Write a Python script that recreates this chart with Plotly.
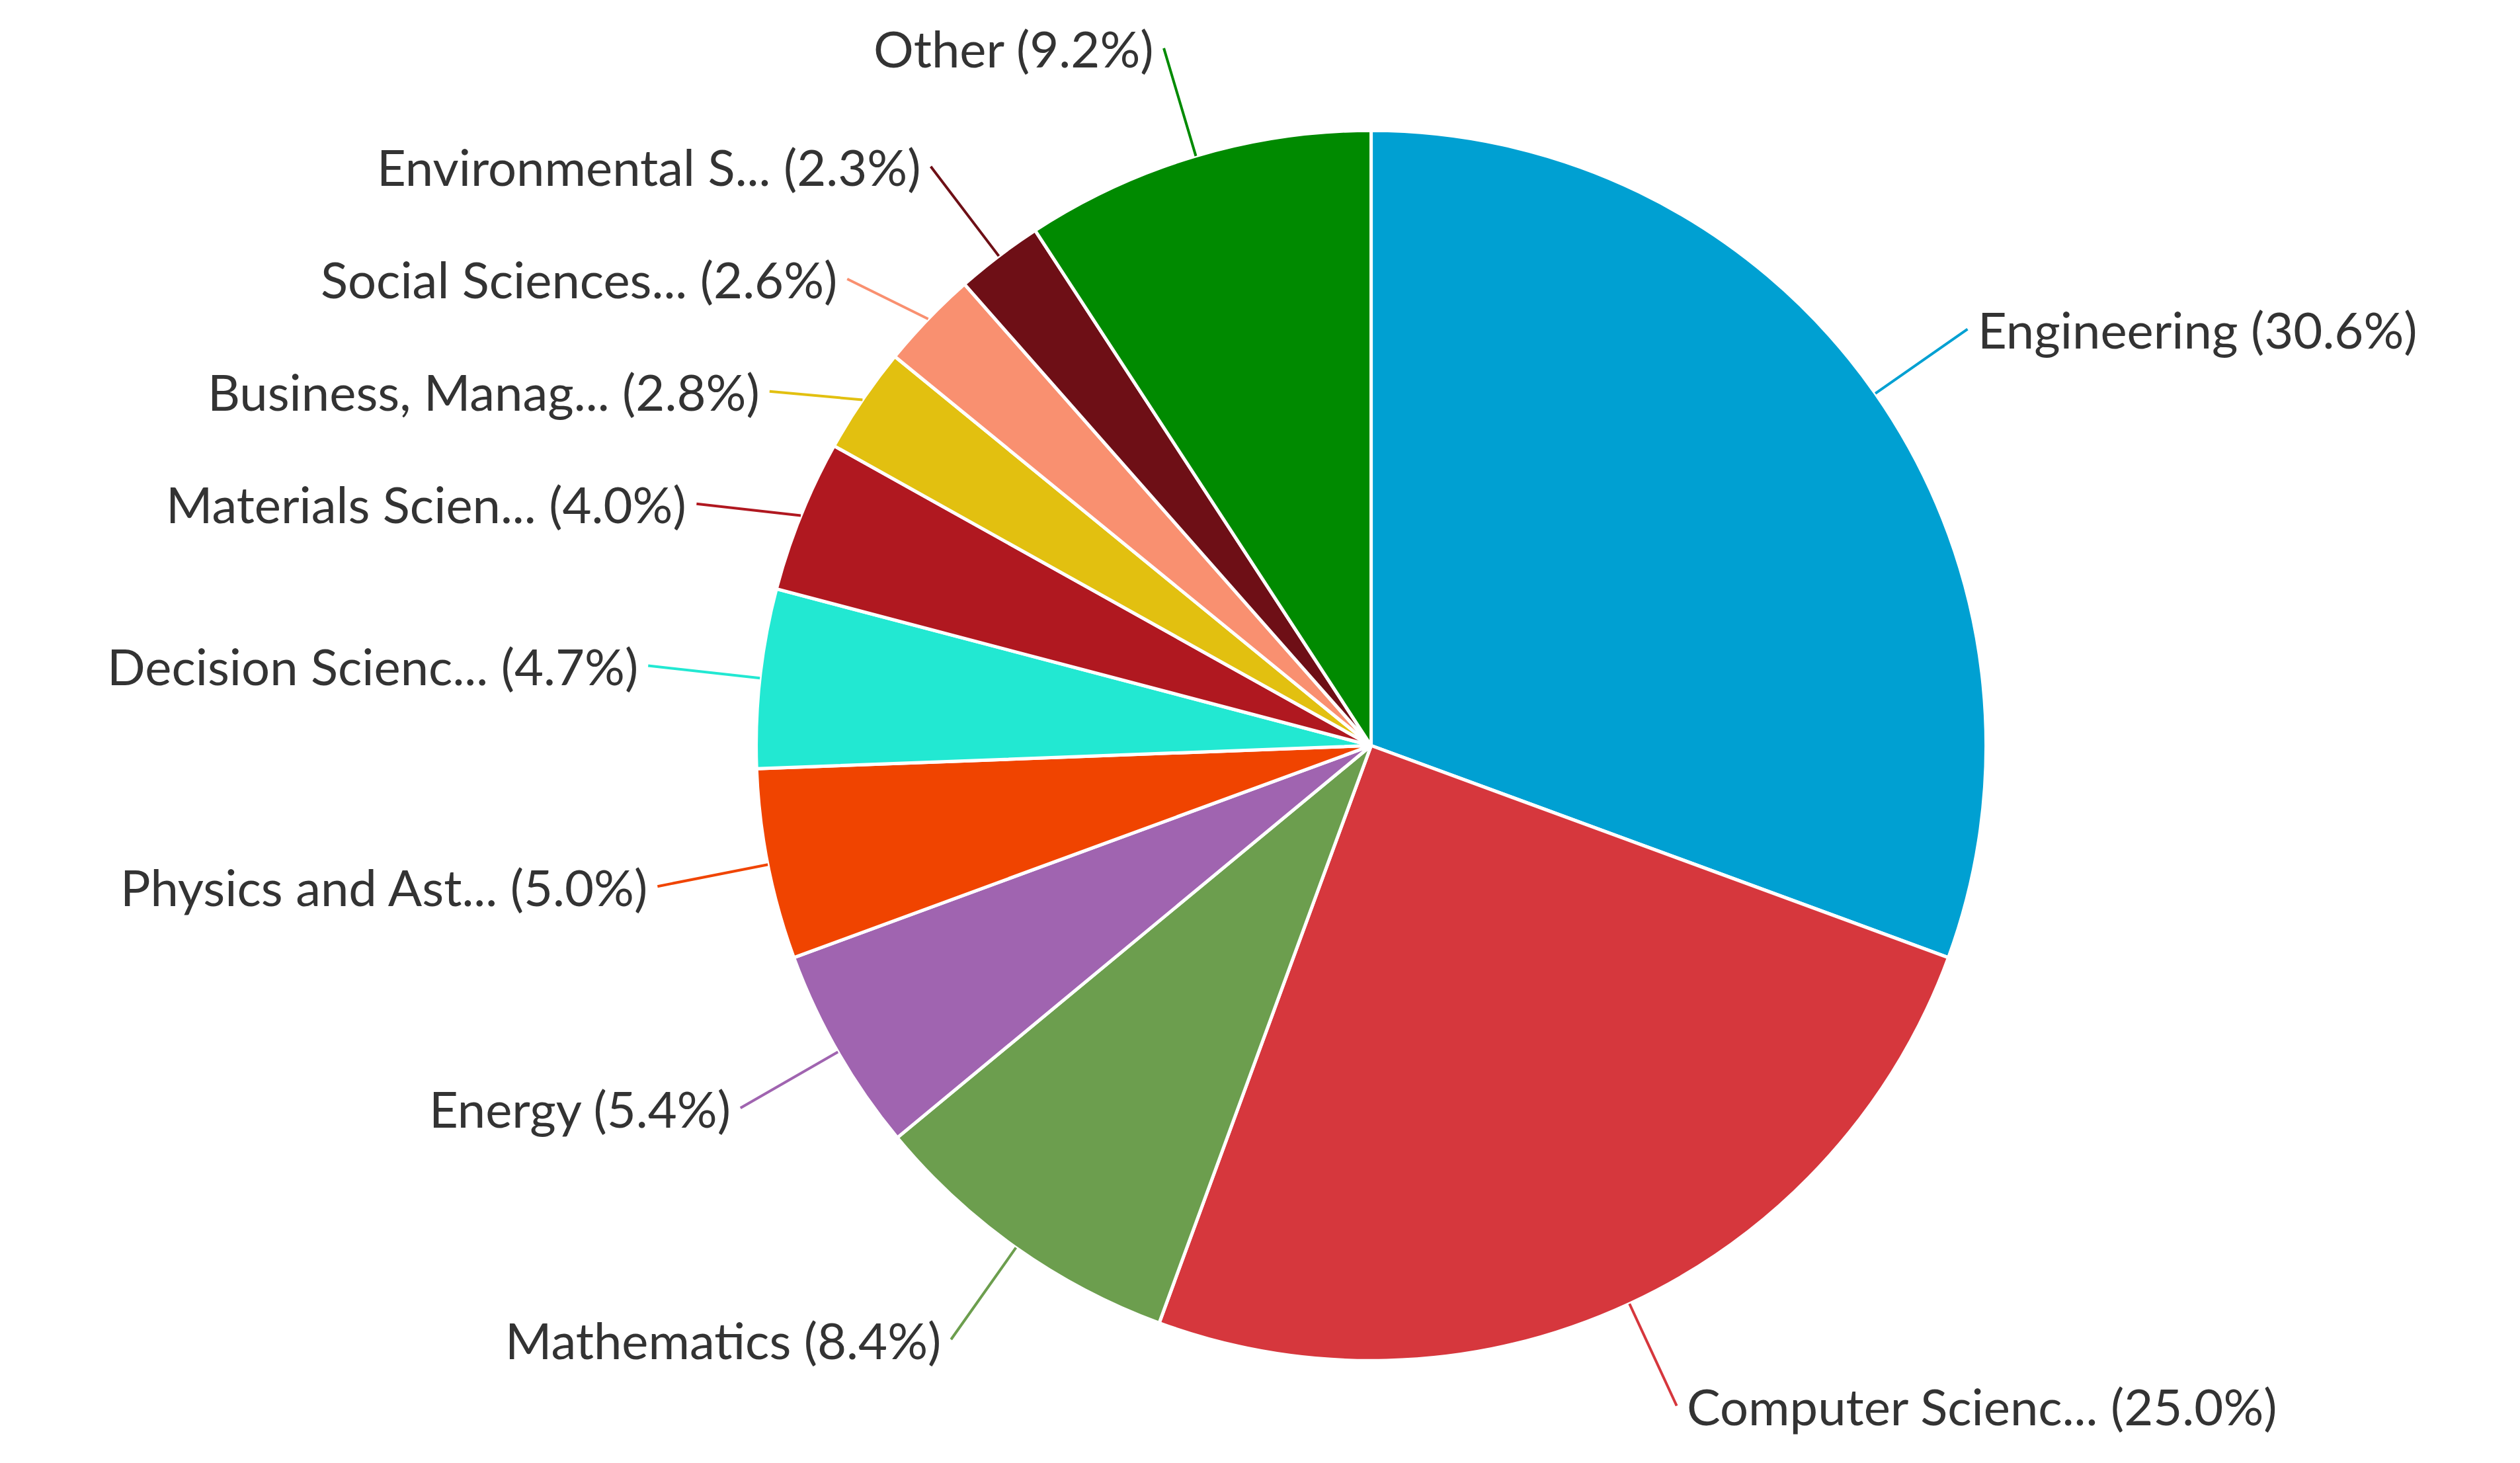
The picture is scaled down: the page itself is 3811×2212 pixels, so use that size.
import math
import plotly.graph_objects as go

labels = ["Engineering", "Computer Scienc...", "Mathematics", "Energy", "Physics and Ast...",
          "Decision Scienc...", "Materials Scien...", "Business, Manag...", "Social Sciences...",
          "Environmental S...", "Other"]
values = [30.6, 25.0, 8.4, 5.4, 5.0, 4.7, 4.0, 2.8, 2.6, 2.3, 9.2]
colors = ["#00A0D2", "#D6373D", "#6C9E4E", "#A064B0", "#F04400", "#22E8D2",
          "#B01820", "#E2C010", "#F99070", "#6E0F16", "#008A00"]

W, H = 3811, 2212
cx, cy = 0.542, 0.494
R = 930
fig = go.Figure(go.Pie(
    labels=labels, values=values, sort=False, direction="clockwise", rotation=0,
    marker=dict(colors=colors, line=dict(color="white", width=5)),
    textinfo="none", hoverinfo="label+percent", showlegend=False,
    domain=dict(x=[cx - R / W, cx + R / W], y=[cy - R / H, cy + R / H]),
))

total = sum(values)
cum = 0
items = []
for lab, v, c in zip(labels, values, colors):
    mid = (cum + v / 2) / total * 2 * math.pi
    cum += v
    sx, sy = math.sin(mid), math.cos(mid)
    L = 170
    tx, ty = (R + L) * sx, (R + L) * sy
    items.append(dict(lab=lab, v=v, c=c, sx=sx, sy=sy, tx=tx, ty=ty))

left = sorted([it for it in items if it["sx"] < 0], key=lambda it: -it["ty"])
for i in range(1, len(left)):
    if left[i - 1]["ty"] - left[i]["ty"] < 170:
        left[i]["ty"] = left[i - 1]["ty"] - 170

ann = []
for it in items:
    ex, ey = cx + R * it["sx"] / W, cy + R * it["sy"] / H
    ax = it["tx"] - R * it["sx"]
    ay = -(it["ty"] - R * it["sy"])
    ann.append(dict(x=ex, y=ey, xref="paper", yref="paper", ax=ax, ay=ay,
                    text=f"{it['lab']} ({it['v']:.1f}%)", showarrow=True, arrowhead=0,
                    arrowwidth=4, arrowcolor=it["c"], standoff=0, borderpad=14,
                    xanchor="left" if it["sx"] >= 0 else "right",
                    font=dict(family="Lato", size=76, color="#333333")))

fig.update_layout(width=W, height=H, margin=dict(l=0, r=0, t=0, b=0),
                  paper_bgcolor="white", annotations=ann)
fig.write_html("out.html")
